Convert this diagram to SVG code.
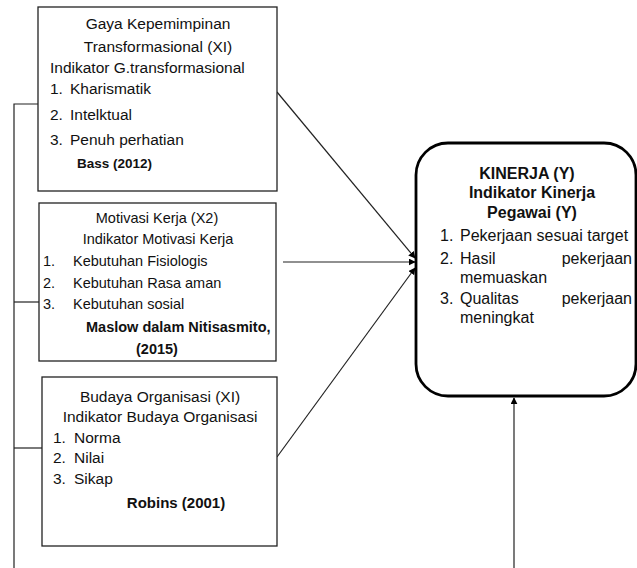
<svg xmlns="http://www.w3.org/2000/svg" width="637" height="568" viewBox="0 0 637 568">
<style>
text{font-family:"Liberation Sans",Arial,sans-serif;fill:#111;}
.box{fill:#fff;stroke:#222;stroke-width:1.3;}
.big{fill:#fff;stroke:#000;stroke-width:2.8;}
.ln{stroke:#222;stroke-width:1.2;fill:none;}
.b1{font-size:15.5px;}
.b2{font-size:14.5px;}
.b3{font-size:15.5px;}
.by{font-size:16px;}
.bold{font-weight:bold;}
.c{text-anchor:middle;}
.e{text-anchor:end;}
</style>
<defs>
<marker id="ah" viewBox="0 0 10 10" refX="9" refY="5" markerWidth="7" markerHeight="7" markerUnits="userSpaceOnUse" orient="auto">
<path d="M0,0 L10,5 L0,10 z" fill="#000"/>
</marker>
</defs>
<g id="connectors">
<polyline class="ln" points="38,104 14,104 14,568"/>
<line class="ln" x1="14" y1="302" x2="39" y2="302"/>
<line class="ln" x1="14" y1="448" x2="42" y2="448"/>
<line class="ln" x1="277" y1="92" x2="415" y2="258" marker-end="url(#ah)"/>
<line class="ln" x1="283" y1="262" x2="415" y2="262" marker-end="url(#ah)"/>
<line class="ln" x1="277" y1="457" x2="415" y2="268" marker-end="url(#ah)"/>
<line class="ln" x1="514" y1="568" x2="514" y2="398" marker-end="url(#ah)"/>
</g>
<g id="node-x1">
<rect class="box" x="38" y="7" width="239" height="184"/>
<text class="b1 c" x="158" y="29">Gaya Kepemimpinan</text>
<text class="b1 c" x="158" y="52">Transformasional (XI)</text>
<text class="b1" x="50" y="73">Indikator G.transformasional</text>
<text class="b1" x="50" y="94">1.</text><text class="b1" x="70" y="94">Kharismatik</text>
<text class="b1" x="50" y="120">2.</text><text class="b1" x="70" y="120">Intelktual</text>
<text class="b1" x="50" y="145">3.</text><text class="b1" x="70" y="145">Penuh perhatian</text>
<text class="bold" x="77" y="168" font-size="13.5">Bass (2012)</text>
</g>
<g id="node-x2">
<rect class="box" x="39" y="203" width="237" height="158"/>
<text class="b2 c" x="157" y="223">Motivasi Kerja (X2)</text>
<text class="b2 c" x="158" y="244">Indikator Motivasi Kerja</text>
<text class="b2" x="43" y="266">1.</text><text class="b2" x="73" y="266">Kebutuhan Fisiologis</text>
<text class="b2" x="43" y="288">2.</text><text class="b2" x="73" y="288">Kebutuhan Rasa aman</text>
<text class="b2" x="43" y="309">3.</text><text class="b2" x="73" y="309">Kebutuhan sosial</text>
<text class="bold" x="86" y="332" font-size="14.5">Maslow dalam Nitisasmito,</text>
<text class="bold c" x="157" y="354" font-size="14.5">(2015)</text>
</g>
<g id="node-x3">
<rect class="box" x="42" y="377" width="235" height="169"/>
<text class="b3 c" x="160" y="402">Budaya Organisasi (XI)</text>
<text class="b3 c" x="160" y="422">Indikator Budaya Organisasi</text>
<text class="b3" x="53" y="443">1.</text><text class="b3" x="74" y="443">Norma</text>
<text class="b3" x="53" y="463">2.</text><text class="b3" x="74" y="463">Nilai</text>
<text class="b3" x="53" y="484" font-size="13.5">3.</text><text class="b3" x="74" y="484">Sikap</text>
<text class="bold c" x="176" y="508" font-size="15">Robins (2001)</text>
</g>
<g id="node-y">
<rect class="big" x="416" y="143" width="220" height="253" rx="32" ry="32"/>
<text class="by bold c" x="527" y="179">KINERJA (Y)</text>
<text class="by bold c" x="532" y="198">Indikator Kinerja</text>
<text class="by bold c" x="532" y="218">Pegawai (Y)</text>
<text class="by" x="440" y="241">1.</text><text class="by" x="460" y="241">Pekerjaan sesuai target</text>
<text class="by" x="440" y="264">2.</text><text class="by" x="460" y="264">Hasil</text><text class="by e" x="632" y="264">pekerjaan</text>
<text class="by" x="460" y="283">memuaskan</text>
<text class="by" x="440" y="304">3.</text><text class="by" x="460" y="304">Qualitas</text><text class="by e" x="632" y="304">pekerjaan</text>
<text class="by" x="460" y="323">meningkat</text>
</g>
</svg>
